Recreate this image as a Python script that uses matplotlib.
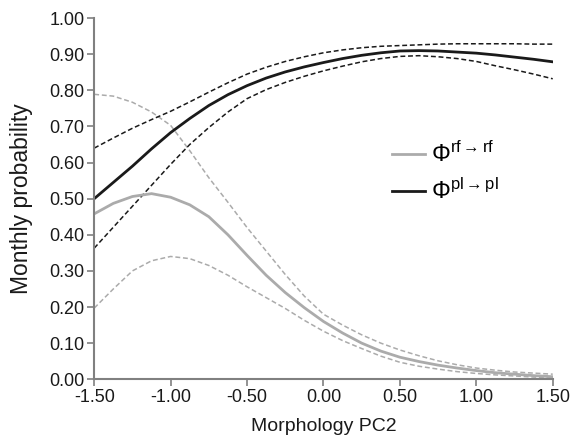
import numpy as np
import matplotlib
matplotlib.use("Agg")
import matplotlib.pyplot as plt

plt.rcParams['font.family'] = ['Liberation Sans', 'DejaVu Sans']
plt.rcParams['mathtext.fontset'] = 'custom'
plt.rcParams['mathtext.rm'] = 'Liberation Sans'
plt.rcParams['mathtext.it'] = 'Liberation Sans'

pc2 = [-1.5, -1.375, -1.25, -1.125, -1.0, -0.875, -0.75, -0.625, -0.5, -0.375,
       -0.25, -0.125, 0.0, 0.125, 0.25, 0.375, 0.5, 0.625, 0.75, 0.875,
       1.0, 1.125, 1.25, 1.375, 1.5]

pl_mean = [0.500, 0.545, 0.590, 0.638, 0.683, 0.722, 0.758, 0.788, 0.813, 0.834,
           0.851, 0.865, 0.877, 0.888, 0.897, 0.904, 0.909, 0.910, 0.909, 0.906,
           0.903, 0.898, 0.892, 0.886, 0.879]
pl_upper = [0.640, 0.668, 0.695, 0.719, 0.742, 0.768, 0.795, 0.821, 0.845, 0.864,
            0.880, 0.893, 0.904, 0.912, 0.918, 0.922, 0.924, 0.926, 0.928, 0.929,
            0.929, 0.929, 0.929, 0.928, 0.928]
pl_lower = [0.363, 0.421, 0.479, 0.537, 0.595, 0.650, 0.697, 0.740, 0.777, 0.802,
            0.822, 0.839, 0.854, 0.867, 0.879, 0.888, 0.894, 0.896, 0.893, 0.888,
            0.880, 0.868, 0.857, 0.845, 0.832]

rf_mean = [0.458, 0.487, 0.506, 0.514, 0.504, 0.483, 0.450, 0.400, 0.343, 0.288,
           0.240, 0.198, 0.160, 0.128, 0.100, 0.078, 0.061, 0.049, 0.039, 0.031,
           0.024, 0.018, 0.014, 0.010, 0.007]
rf_upper = [0.789, 0.784, 0.767, 0.740, 0.703, 0.633, 0.558, 0.490, 0.420, 0.355,
            0.290, 0.230, 0.180, 0.150, 0.123, 0.100, 0.081, 0.065, 0.051, 0.040,
            0.031, 0.025, 0.020, 0.017, 0.014]
rf_lower = [0.197, 0.250, 0.300, 0.328, 0.340, 0.334, 0.315, 0.288, 0.256, 0.226,
            0.196, 0.163, 0.133, 0.107, 0.085, 0.064, 0.047, 0.036, 0.028, 0.021,
            0.016, 0.012, 0.009, 0.006, 0.004]

x_ticks = [-1.5, -1.0, -0.5, 0.0, 0.5, 1.0, 1.5]
y_ticks = [0.0, 0.1, 0.2, 0.3, 0.4, 0.5, 0.6, 0.7, 0.8, 0.9, 1.0]

fig = plt.figure(figsize=(5.71, 4.42), dpi=100)
ax = fig.add_axes([0.165, 0.142, 0.803, 0.817])

gray = '#ababab'
black = '#1a1a1a'
dash = (0, (3.2, 1.8))

ax.plot(pc2, rf_upper, color=gray, lw=1.1, linestyle=dash)
ax.plot(pc2, rf_lower, color=gray, lw=1.1, linestyle=dash)
ax.plot(pc2, pl_upper, color=black, lw=1.1, linestyle=dash)
ax.plot(pc2, pl_lower, color=black, lw=1.1, linestyle=dash)
ax.plot(pc2, rf_mean, color=gray, lw=2.0,
        label=r'$\Phi^{\mathrm{rf}{\rightarrow}\mathrm{rf}}$')
ax.plot(pc2, pl_mean, color=black, lw=2.0,
        label=r'$\Phi^{\mathrm{pl}{\rightarrow}\mathrm{pl}}$')

ax.set_xlim(-1.5, 1.5)
ax.set_ylim(0, 1.0)
ax.set_xticks(x_ticks)
ax.set_yticks(y_ticks)
ax.set_xticklabels([f"{v:.2f}" for v in x_ticks])
ax.set_yticklabels([f"{v:.2f}" for v in y_ticks])
ax.tick_params(axis='both', direction='out', length=5, width=1.2,
               color='#808080', labelsize=13, labelcolor='#1a1a1a', pad=2)

for s in ['top', 'right']:
    ax.spines[s].set_visible(False)
for s in ['left', 'bottom']:
    ax.spines[s].set_color('#808080')
    ax.spines[s].set_linewidth(1.5)

ax.set_xlabel('Morphology PC2', fontsize=14, color='#1a1a1a', labelpad=9)
ax.set_ylabel('Monthly probability', fontsize=16.5, color='#1a1a1a', labelpad=12)

leg = ax.legend(loc='upper left', bbox_to_anchor=(0.65, 0.657), frameon=False,
                fontsize=17, handlelength=1.4, handletextpad=0.25,
                labelspacing=0.5, borderpad=0, borderaxespad=0)

fig.savefig('out.png', dpi=100)
